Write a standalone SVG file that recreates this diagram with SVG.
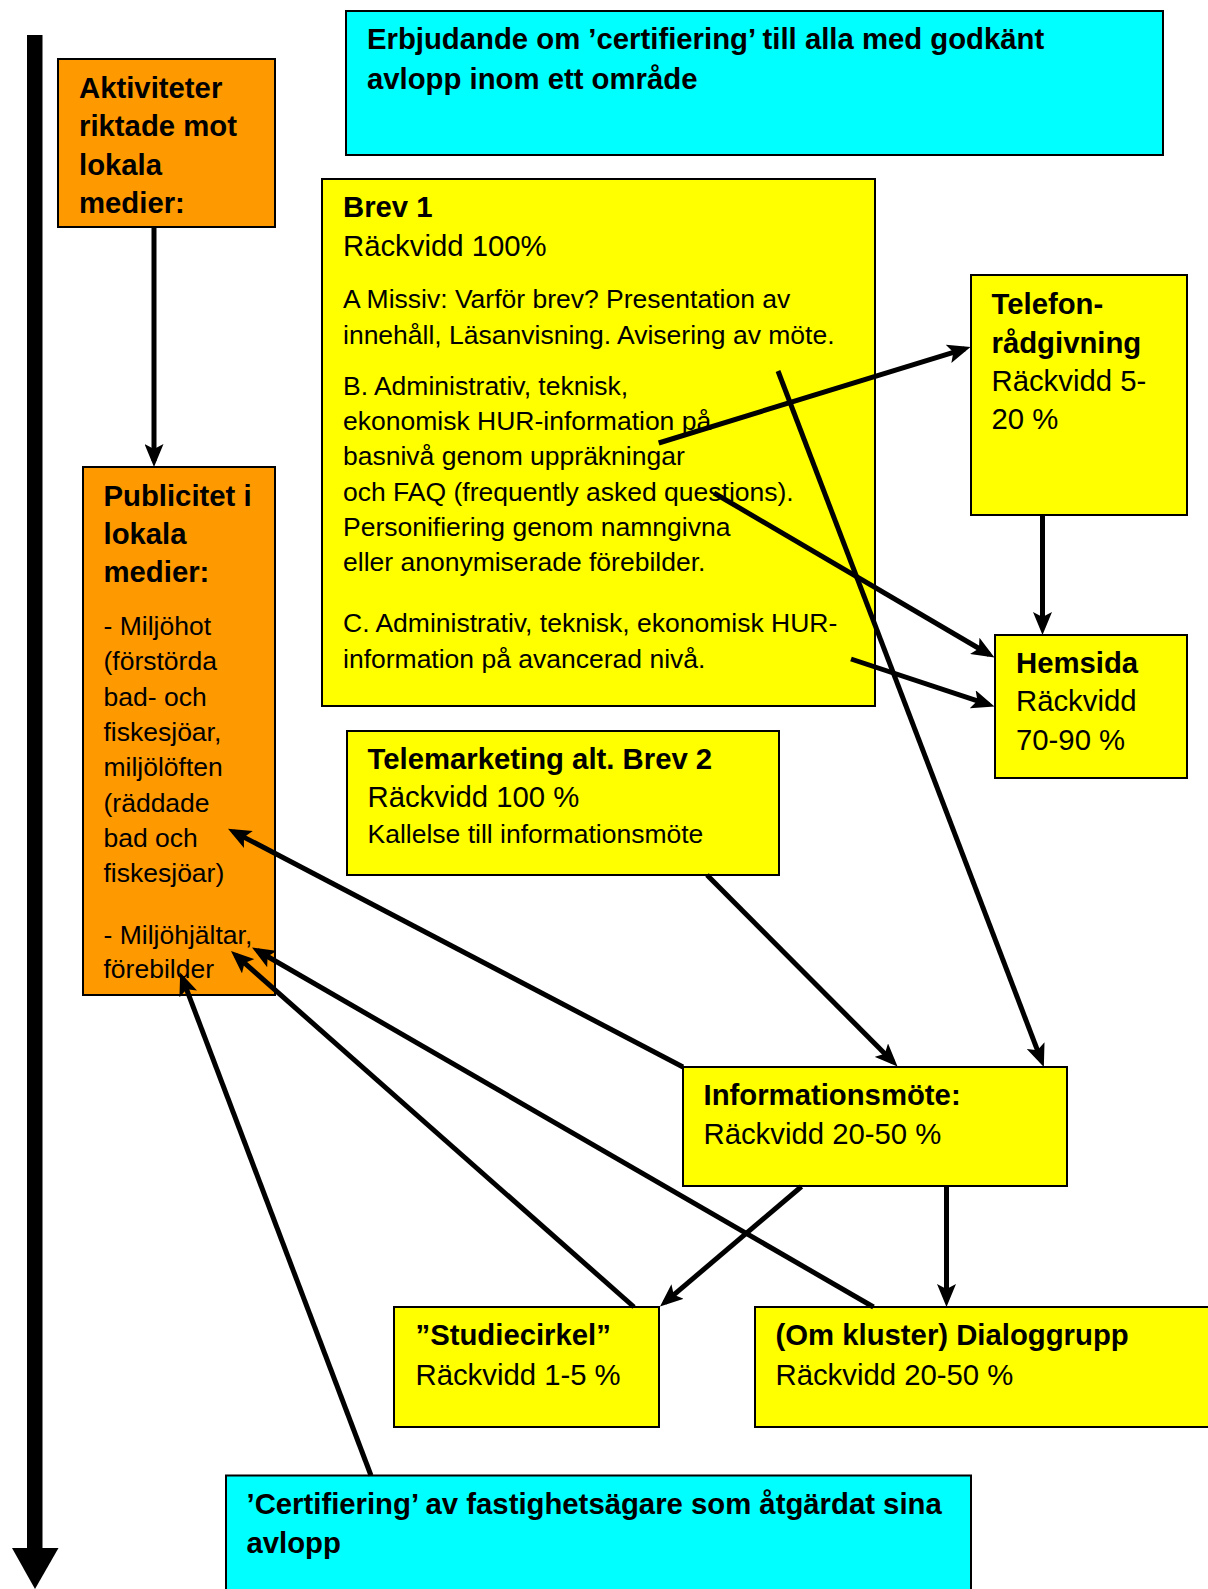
<svg xmlns="http://www.w3.org/2000/svg" width="1208" height="1589" viewBox="0 0 1208 1589">
<style>
.box{stroke:#000;stroke-width:2}
.cy{fill:#00FFFF}.ye{fill:#FFFF00}.or{fill:#FF9900}
text{font-family:"Liberation Sans",Arial,Helvetica,sans-serif;fill:#000}
.b{font-weight:bold;font-size:29.3px}
.r{font-size:29.3px}
.s{font-size:26.5px}
.con line{stroke:#000;stroke-width:5;marker-end:url(#ah)}
</style>
<defs>
<marker id="ah" viewBox="0 0 23 19" refX="17" refY="9.5" markerWidth="23" markerHeight="19" markerUnits="userSpaceOnUse" orient="auto">
<path d="M0,0 L23,9.5 L0,19 L5,9.5 z" fill="#000"/>
</marker>
</defs>
<rect width="1208" height="1589" fill="#fff"/>

<g id="timeline">
<rect x="27" y="35" width="15.5" height="1515" fill="#000"/>
<polygon points="12,1548 58.5,1548 35,1589" fill="#000"/>
</g>

<g id="erbjudande">
<rect class="box cy" x="346" y="11" width="817" height="144"/>
<text class="b" x="367" y="49">Erbjudande om ’certifiering’ till alla med godkänt</text>
<text class="b" x="367" y="89">avlopp inom ett område</text>
</g>

<g id="aktiviteter">
<rect class="box or" x="58" y="59" width="217" height="168"/>
<text class="b" x="79" y="97.5">Aktiviteter</text>
<text class="b" x="79" y="136">riktade mot</text>
<text class="b" x="79" y="174.5">lokala</text>
<text class="b" x="79" y="213">medier:</text>
</g>

<g id="brev1">
<rect class="box ye" x="322" y="179" width="553" height="527"/>
<text class="b" x="343" y="217">Brev 1</text>
<text class="r" x="343" y="255.5">Räckvidd 100%</text>
<text class="s" x="343" y="308">A Missiv: Varför brev? Presentation av</text>
<text class="s" x="343" y="343.5">innehåll, Läsanvisning. Avisering av möte.</text>
<text class="s" x="343" y="395">B. Administrativ, teknisk,</text>
<text class="s" x="343" y="430">ekonomisk HUR-information på</text>
<text class="s" x="343" y="465">basnivå genom uppräkningar</text>
<text class="s" x="343" y="500.5">och FAQ (frequently asked questions).</text>
<text class="s" x="343" y="536">Personifiering genom namngivna</text>
<text class="s" x="343" y="571">eller anonymiserade förebilder.</text>
<text class="s" x="343" y="632">C. Administrativ, teknisk, ekonomisk HUR-</text>
<text class="s" x="343" y="667.5">information på avancerad nivå.</text>
</g>

<g id="telefon">
<rect class="box ye" x="971" y="275" width="216" height="240"/>
<text class="b" x="991.5" y="313.5">Telefon-</text>
<text class="b" x="991.5" y="352.5">rådgivning</text>
<text class="r" x="991.5" y="391">Räckvidd 5-</text>
<text class="r" x="991.5" y="429">20 %</text>
</g>

<g id="hemsida">
<rect class="box ye" x="995" y="635" width="192" height="143"/>
<text class="b" x="1016" y="672.5">Hemsida</text>
<text class="r" x="1016" y="711">Räckvidd</text>
<text class="r" x="1016" y="749.5">70-90 %</text>
</g>

<g id="publicitet">
<rect class="box or" x="83" y="467" width="192" height="528"/>
<text class="b" x="103.5" y="505.5">Publicitet i</text>
<text class="b" x="103.5" y="543.5">lokala</text>
<text class="b" x="103.5" y="582">medier:</text>
<text class="s" x="103.5" y="635">- Miljöhot</text>
<text class="s" x="103.5" y="670">(förstörda</text>
<text class="s" x="103.5" y="705.5">bad- och</text>
<text class="s" x="103.5" y="740.5">fiskesjöar,</text>
<text class="s" x="103.5" y="776">miljölöften</text>
<text class="s" x="103.5" y="811.5">(räddade</text>
<text class="s" x="103.5" y="846.5">bad och</text>
<text class="s" x="103.5" y="882">fiskesjöar)</text>
<text class="s" x="103.5" y="943.5">- Miljöhjältar,</text>
<text class="s" x="103.5" y="978">förebilder</text>
</g>

<g id="telemarketing">
<rect class="box ye" x="347" y="731" width="432" height="144"/>
<text class="b" x="367.5" y="768.5">Telemarketing alt. Brev 2</text>
<text class="r" x="367.5" y="807">Räckvidd 100 %</text>
<text class="s" x="367.5" y="843">Kallelse till informationsmöte</text>
</g>

<g id="informationsmote">
<rect class="box ye" x="683" y="1067" width="384" height="119"/>
<text class="b" x="703.5" y="1104.5">Informationsmöte:</text>
<text class="r" x="703.5" y="1143.5">Räckvidd 20-50 %</text>
</g>

<g id="studiecirkel">
<rect class="box ye" x="394" y="1307" width="265" height="120"/>
<text class="b" x="415.5" y="1345">”Studiecirkel”</text>
<text class="r" x="415.5" y="1384.5">Räckvidd 1-5 %</text>
</g>

<g id="dialoggrupp">
<rect class="box ye" x="755" y="1307" width="460" height="120"/>
<text class="b" x="775.5" y="1345">(Om kluster) Dialoggrupp</text>
<text class="r" x="775.5" y="1384.5">Räckvidd 20-50 %</text>
</g>

<g id="certifiering">
<rect class="box cy" x="226" y="1475.5" width="745" height="120"/>
<text class="b" x="246.5" y="1513.5">’Certifiering’ av fastighetsägare som åtgärdat sina</text>
<text class="b" x="246.5" y="1553">avlopp</text>
</g>

<g id="connectors" class="con">
<line x1="154" y1="227" x2="154" y2="461"/>
<line x1="658.7" y1="443" x2="964.8" y2="348.8"/>
<line x1="778" y1="371" x2="1041.7" y2="1061.4"/>
<line x1="714" y1="493" x2="989.3" y2="654.5"/>
<line x1="851" y1="659" x2="988.8" y2="704.6"/>
<line x1="1042.5" y1="515" x2="1042.5" y2="629"/>
<line x1="707" y1="875" x2="893.3" y2="1062.2"/>
<line x1="683" y1="1067" x2="233.3" y2="831.6"/>
<line x1="873.5" y1="1307" x2="257.2" y2="950.5"/>
<line x1="634" y1="1307" x2="235.5" y2="955"/>
<line x1="371" y1="1475.5" x2="182.3" y2="978.1"/>
<line x1="801.5" y1="1186.5" x2="664.6" y2="1302.6"/>
<line x1="946.5" y1="1186" x2="946.5" y2="1301"/>
</g>
</svg>
